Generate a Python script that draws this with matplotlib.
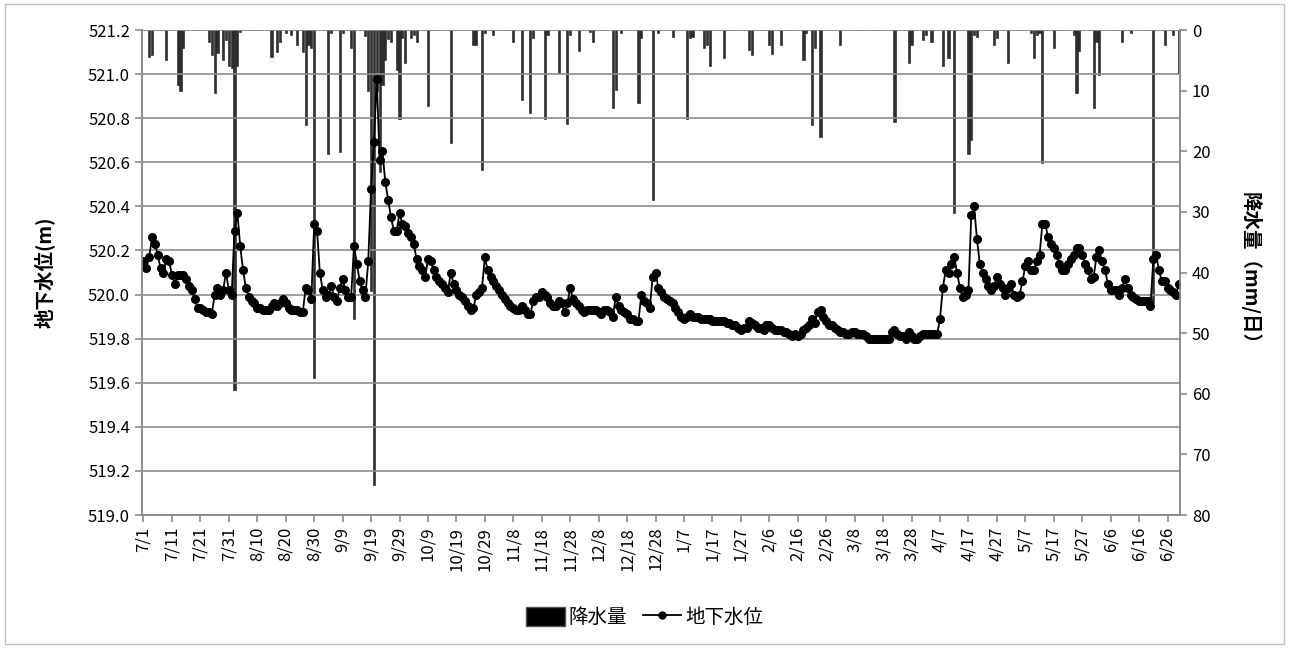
import numpy as np
import matplotlib.pyplot as plt
from matplotlib.patches import Patch, Rectangle
from matplotlib.lines import Line2D

plt.rcParams['font.family'] = ['Noto Sans CJK JP', 'DejaVu Sans']

# groundwater level (m), one value per day from 7/1 to 6/30
level_jul = [520.15, 520.12, 520.17, 520.26, 520.23, 520.18, 520.12, 520.10, 520.16, 520.15,
             520.09, 520.05, 520.09, 520.09, 520.09, 520.07, 520.04, 520.02, 519.98, 519.94,
             519.94, 519.93, 519.92, 519.92, 519.91, 520.00, 520.03, 520.00, 520.02, 520.10,
             520.02]
level_aug = [520.00, 520.29, 520.37, 520.22, 520.11, 520.03, 519.99, 519.97, 519.96, 519.94,
             519.94, 519.93, 519.93, 519.93, 519.95, 519.96, 519.95, 519.96, 519.98, 519.96,
             519.94, 519.93, 519.93, 519.93, 519.92, 519.92, 520.03, 520.02, 519.98, 520.32,
             520.29]
level_sep = [520.10, 520.02, 519.99, 520.00, 520.04, 519.99, 519.97, 520.03, 520.07, 520.02,
             519.99, 519.99, 520.22, 520.14, 520.06, 520.02, 519.99, 520.15, 520.48, 520.69,
             520.98, 520.61, 520.65, 520.51, 520.43, 520.35, 520.29, 520.29, 520.37, 520.32]
level_oct = [520.31, 520.28, 520.26, 520.23, 520.16, 520.13, 520.11, 520.08, 520.16, 520.15,
             520.11, 520.08, 520.06, 520.05, 520.03, 520.01, 520.10, 520.05, 520.02, 520.00,
             519.99, 519.97, 519.95, 519.93, 519.94, 520.00, 520.01, 520.03, 520.17, 520.11,
             520.08]
level_nov = [520.06, 520.04, 520.02, 520.00, 519.98, 519.96, 519.95, 519.94, 519.93, 519.93,
             519.95, 519.93, 519.91, 519.91, 519.97, 519.99, 519.99, 520.01, 520.00, 519.99,
             519.96, 519.95, 519.95, 519.97, 519.96, 519.92, 519.96, 520.03, 519.98, 519.96]
level_dec = [519.95, 519.93, 519.92, 519.93, 519.93, 519.93, 519.93, 519.92, 519.91, 519.93,
             519.93, 519.92, 519.90, 519.99, 519.95, 519.93, 519.92, 519.91, 519.89, 519.89,
             519.88, 519.88, 520.00, 519.97, 519.96, 519.94, 520.08, 520.10, 520.03, 520.01,
             519.99]
level_jan = [519.98, 519.97, 519.96, 519.94, 519.92, 519.90, 519.89, 519.90, 519.91, 519.90,
             519.90, 519.90, 519.89, 519.89, 519.89, 519.89, 519.88, 519.88, 519.88, 519.88,
             519.88, 519.87, 519.87, 519.86, 519.86, 519.85, 519.84, 519.85, 519.85, 519.88,
             519.87]
level_feb = [519.86, 519.85, 519.85, 519.84, 519.86, 519.86, 519.85, 519.84, 519.84, 519.84,
             519.83, 519.83, 519.82, 519.81, 519.82, 519.81, 519.82, 519.84, 519.85, 519.86,
             519.89, 519.87, 519.92, 519.93, 519.90, 519.88, 519.86, 519.86]
level_mar = [519.85, 519.84, 519.83, 519.83, 519.82, 519.82, 519.83, 519.83, 519.82, 519.82,
             519.82, 519.81, 519.80, 519.80, 519.80, 519.80, 519.80, 519.80, 519.80, 519.80,
             519.83, 519.84, 519.82, 519.81, 519.81, 519.80, 519.83, 519.81, 519.80, 519.80,
             519.81]
level_apr = [519.82, 519.82, 519.82, 519.82, 519.82, 519.82, 519.89, 520.03, 520.11, 520.10,
             520.14, 520.17, 520.10, 520.03, 519.99, 520.00, 520.02, 520.36, 520.40, 520.25,
             520.14, 520.10, 520.07, 520.04, 520.02, 520.04, 520.08, 520.05, 520.03, 520.00]
level_may = [520.03, 520.05, 520.00, 519.99, 520.00, 520.06, 520.13, 520.15, 520.11, 520.11,
             520.15, 520.18, 520.32, 520.32, 520.26, 520.23, 520.21, 520.18, 520.14, 520.11,
             520.11, 520.14, 520.16, 520.18, 520.21, 520.21, 520.18, 520.14, 520.11, 520.07,
             520.08]
level_jun = [520.17, 520.20, 520.15, 520.11, 520.05, 520.02, 520.02, 520.02, 520.00, 520.03,
             520.07, 520.03, 520.00, 519.99, 519.98, 519.97, 519.97, 519.97, 519.97, 519.95,
             520.16, 520.18, 520.11, 520.06, 520.06, 520.03, 520.02, 520.01, 520.00, 520.05]

# daily precipitation (mm/day)
rain_jul = [0, 0, 4.4, 4.1, 0, 0, 0, 0, 4.9, 0, 0, 0, 9.1, 10.1, 3.0, 0, 0, 0, 0, 0,
            0, 0, 0, 1.9, 4.1, 10.4, 3.8, 0, 5.0, 1.6, 6.0]
rain_aug = [6.3, 59.4, 6.0, 0.3, 0, 0, 0, 0, 0, 0, 0, 0, 0, 0, 4.5, 0, 3.6, 1.9, 0, 0.5,
            0, 0.8, 0, 2.5, 0, 3.6, 15.6, 2.5, 3.0, 57.4, 0]
rain_sep = [0, 0, 0, 20.5, 0.5, 0, 0, 20.1, 0.5, 0, 0, 3.0, 47.6, 0, 0, 0, 1.0, 10.0, 43.0, 75.0,
            10.0, 23.5, 9.0, 5.0, 1.5, 1.9, 0, 6.6, 14.6, 1.4]
rain_oct = [5.5, 0, 1.4, 0.8, 1.9, 0, 0, 0, 12.5, 0, 0, 0, 0, 0, 0, 0, 18.6, 0, 0, 0,
            0, 0, 0, 0, 2.5, 2.5, 0, 23.1, 0.5, 0, 0]
rain_nov = [0.8, 0, 0, 0, 0, 0, 0, 1.9, 0, 0, 11.5, 0, 0, 13.7, 1.4, 0, 0, 0, 14.6, 0.8,
            0, 0, 0, 7.1, 0, 0, 15.5, 0.8, 0, 0]
rain_dec = [3.5, 0, 0, 0, 0.3, 1.9, 0, 0, 0, 0, 0, 0, 12.9, 9.9, 0, 0.5, 0, 0, 0, 0,
            0, 12.1, 1.4, 0, 0, 0, 28.0, 0, 0.5, 0, 0]
rain_jan = [0, 0, 1.1, 0, 0, 0, 0, 14.6, 1.4, 1.1, 0, 0, 0, 3.0, 2.5, 6.0, 0, 0, 0, 0,
            4.6, 0, 0, 0, 0, 0, 0, 0, 0, 3.3, 4.1]
rain_feb = [0, 0, 0, 0, 0, 2.5, 4.0, 0, 0, 2.5, 0, 0, 0, 0, 0, 0, 0, 5.0, 0.5, 0,
            15.6, 3.0, 0, 17.6, 0, 0, 0, 0]
rain_mar = [0, 0, 2.5, 0, 0, 0, 0, 0, 0, 0, 0, 0, 0, 0, 0, 0, 0, 0, 0, 0,
            0, 15.1, 0, 0, 0, 0, 5.5, 2.5, 0, 0, 0]
rain_apr = [1.6, 0.8, 0, 1.9, 0, 0, 0, 6.0, 0, 4.6, 0, 30.2, 0, 0, 0, 0, 20.5, 18.1, 0.8, 1.1,
            0, 0, 0, 0, 0, 2.5, 1.4, 0, 0, 0]
rain_may = [5.5, 0, 0, 0, 0, 0, 0, 0, 0.5, 4.7, 0.8, 0.5, 22.0, 0, 0, 0, 3.0, 0, 0, 0,
            0, 0, 0, 0.8, 10.4, 3.5, 0, 0, 0, 0, 12.9]
rain_jun = [1.9, 7.4, 0, 0, 0, 0, 0, 0, 0, 1.9, 0, 0, 0.5, 0, 0, 0, 0, 0, 0, 0,
            45.0, 0, 0, 0, 2.5, 0, 0, 0.8, 0, 7.1]

tick_labels = ['7/1', '7/11', '7/21', '7/31', '8/10', '8/20', '8/30', '9/9', '9/19', '9/29',
               '10/9', '10/19', '10/29', '11/8', '11/18', '11/28', '12/8', '12/18', '12/28',
               '1/7', '1/17', '1/27', '2/6', '2/16', '2/26', '3/8', '3/18', '3/28', '4/7',
               '4/17', '4/27', '5/7', '5/17', '5/27', '6/6', '6/16', '6/26']

level = np.array(level_jul + level_aug + level_sep + level_oct + level_nov + level_dec
                 + level_jan + level_feb + level_mar + level_apr + level_may + level_jun)
rain = np.array(rain_jul + rain_aug + rain_sep + rain_oct + rain_nov + rain_dec
                + rain_jan + rain_feb + rain_mar + rain_apr + rain_may + rain_jun)
days = np.arange(len(level))

grid_c = '#8c8c8c'
fig = plt.figure(figsize=(12.89, 6.48), dpi=100)
ax = fig.add_axes([0.110, 0.2052, 0.8055, 0.7485])
ax2 = ax.twinx()
ax.set_zorder(ax2.get_zorder() + 1)
ax.patch.set_visible(False)

# precipitation bars hanging from the top
ax2.bar(days, rain, width=0.75, color='#303030', edgecolor='#1a1a1a', linewidth=0.4)
ax2.set_ylim(80, 0)
ax2.set_yticks(np.arange(0, 81, 10))
ax2.set_ylabel('降水量（mm/日）', fontsize=14, fontweight='bold', rotation=270, labelpad=36)

# groundwater level
ax.plot(days, level, color='black', linewidth=1.3, marker='o', markersize=5.5)
ax.set_ylim(519.0, 521.2)
ax.set_yticks(np.arange(519.0, 521.21, 0.2))
ax.yaxis.set_major_formatter(plt.FormatStrFormatter('%.1f'))
ax.set_ylabel('地下水位(m)', fontsize=14, fontweight='bold', labelpad=24)
ax.grid(axis='y', color=grid_c, linewidth=1.2)
ax.set_axisbelow(True)

ax.set_xlim(-0.6, 364.4)
ax.set_xticks(days[::10])
ax.set_xticklabels(tick_labels, rotation=90, fontsize=12)

for a in (ax, ax2):
    for s in a.spines.values():
        s.set_color(grid_c)
        s.set_linewidth(1.2)
    a.spines['top'].set_visible(False)
    a.tick_params(colors=grid_c, labelcolor='black', labelsize=12, length=5, width=1.2)

# legend under the chart
handles = [Patch(facecolor='black', edgecolor='#555555', label='降水量'),
           Line2D([0], [0], color='black', marker='o', markersize=5, linewidth=1.3, label='地下水位')]
fig.legend(handles=handles, loc='center', bbox_to_anchor=(0.5, 0.047), ncol=2, frameon=False,
           fontsize=14, handlelength=2.0, handleheight=1.1, columnspacing=0.8, handletextpad=0.2)

# chart area border
fig.patches.append(Rectangle((0.004, 0.006), 0.992, 0.988, transform=fig.transFigure,
                             fill=False, edgecolor='#c0c0c0', linewidth=1.0))

fig.savefig('out.png', dpi=100)
